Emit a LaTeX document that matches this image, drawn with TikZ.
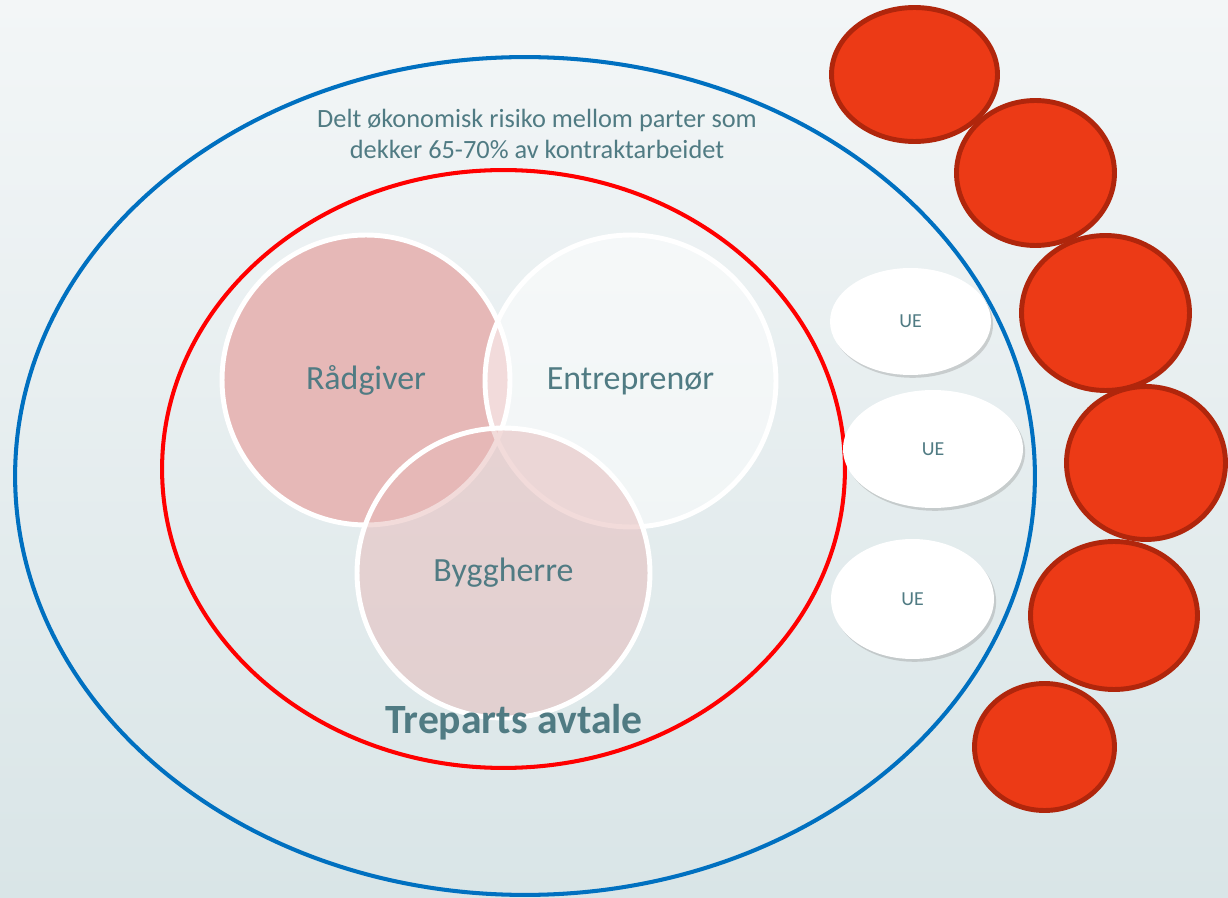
\documentclass[tikz,border=0pt]{standalone}
\usepackage{fontspec}
\setmainfont{Carlito}
\usetikzlibrary{shapes.geometric,shadows}
\definecolor{bgtop}{RGB}{243,246,247}
\definecolor{bgbot}{RGB}{217,229,231}
\definecolor{txt}{RGB}{80,123,131}
\definecolor{ringblue}{RGB}{0,112,192}
\definecolor{ballred}{RGB}{236,58,22}
\definecolor{balledge}{RGB}{176,38,12}
\definecolor{rose}{RGB}{230,184,183}

\begin{document}
\begin{tikzpicture}[x=0.02cm,y=-0.02cm,
  ring/.style={ellipse,draw,line width=2.3pt,inner sep=0pt},
  venn/.style={ellipse,draw=white,line width=2.8pt,inner sep=0pt,text=txt,text opacity=1,font=\fontsize{19.3}{23}\selectfont},
  ue/.style={ellipse,fill=white,inner sep=0pt,text=txt,font=\fontsize{11.3}{13}\selectfont,
    drop shadow={shadow xshift=1.2pt,shadow yshift=-1.6pt,opacity=.3}},
  ball/.style={ellipse,draw=balledge,fill=ballred,line width=2.8pt,inner sep=0pt}]
\shade[top color=bgtop,bottom color=bgbot] (0,0) rectangle (1228,898);
\useasboundingbox (0,0) rectangle (1228,898);
\node[ring,draw=ringblue,minimum width=20.4cm,minimum height=16.76cm] (outer) at (525,476) {};
\node[ring,draw=red,minimum width=13.66cm,minimum height=11.96cm] (inner) at (503.5,469) {};
\node[txt,align=center,font=\fontsize{15}{18.1}\selectfont] (risk) at (537,134)
  {Delt økonomisk risiko mellom parter som\\dekker 65-70\% av kontraktarbeidet};
\node[venn,fill=rose,minimum width=5.76cm,minimum height=5.8cm] (raad) at (366,380) {Rådgiver};
\node[venn,fill=white,fill opacity=.5,minimum width=5.82cm,minimum height=5.84cm] (entr) at (630.5,381) {Entreprenør};
\node[venn,fill=rose,fill opacity=.5,minimum width=5.86cm,minimum height=5.8cm] (bygg) at (503.5,573) {Byggherre};
\node[txt,font=\fontsize{23.7}{28}\selectfont\bfseries] (tre) at (514,722) {Treparts avtale};
\node[ue,minimum width=3.22cm,minimum height=2.14cm] (ue1) at (910.5,321.5) {UE};
\node[ue,minimum width=3.6cm,minimum height=2.36cm] (ue2) at (933,449) {UE};
\node[ue,minimum width=3.26cm,minimum height=2.4cm] (ue3) at (912.5,599) {UE};
\node[ball,minimum width=3.32cm,minimum height=2.68cm] (b1) at (914.5,74.5) {};
\node[ball,minimum width=3.16cm,minimum height=2.9cm] (b2) at (1035.5,173) {};
\node[ball,minimum width=3.36cm,minimum height=3.1cm] (b3) at (1105.5,313) {};
\node[ball,minimum width=3.18cm,minimum height=3.06cm] (b4) at (1146,463) {};
\node[ball,minimum width=3.34cm,minimum height=2.96cm] (b5) at (1114,615.5) {};
\node[ball,minimum width=2.8cm,minimum height=2.54cm] (b6) at (1044.5,747) {};
\end{tikzpicture}
\end{document}
